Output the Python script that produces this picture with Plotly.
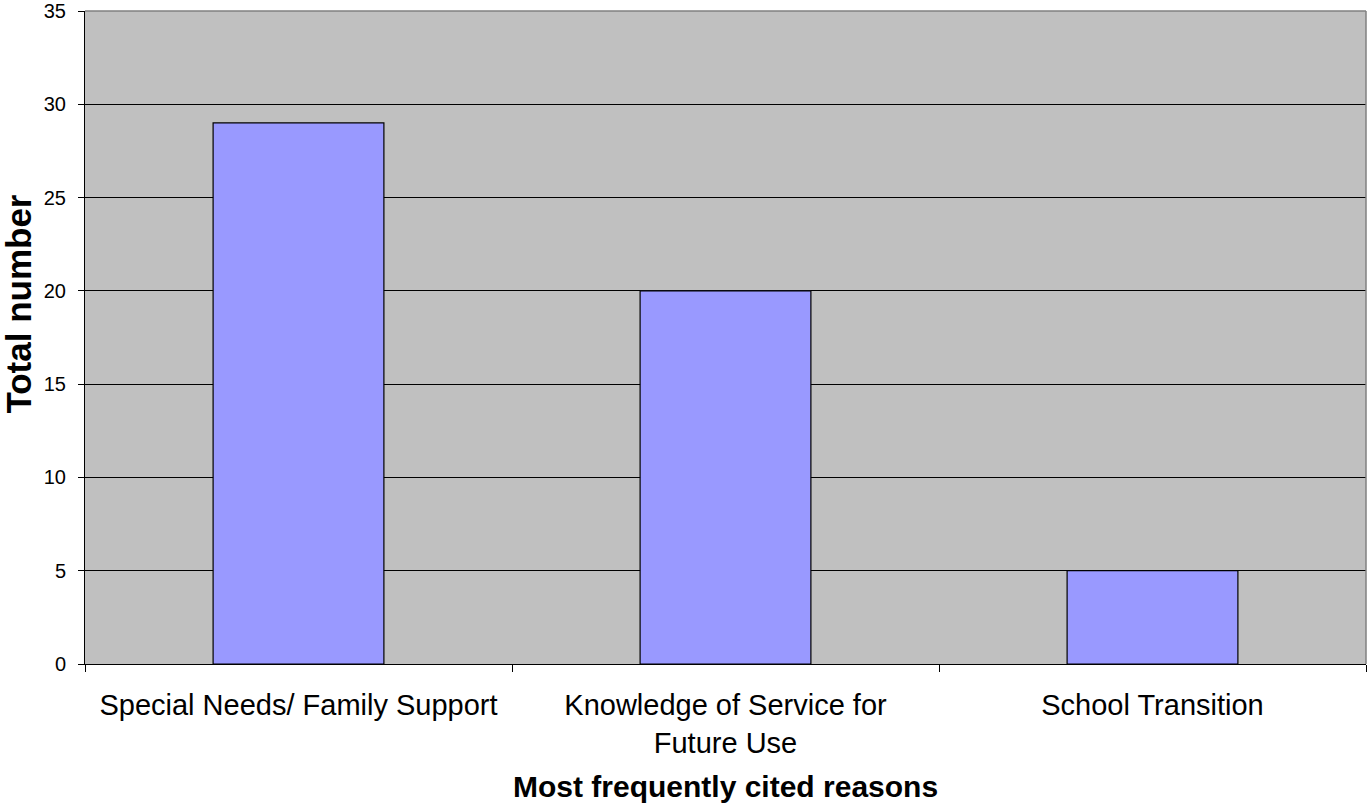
import plotly.graph_objects as go

categories = ["Special Needs/ Family Support", "Knowledge of Service for<br>Future Use", "School Transition"]
values = [29, 20, 5]
y_ticks = [0, 5, 10, 15, 20, 25, 30, 35]

FONT = "Liberation Sans, Arial, sans-serif"

fig = go.Figure(go.Bar(
    x=categories, y=values, width=0.4,
    marker=dict(color="#9999FF", line=dict(color="#000000", width=1.2)),
))

fig.update_layout(
    width=1368, height=806,
    margin=dict(l=85, r=2, t=11, b=142),
    paper_bgcolor="white", plot_bgcolor="#C0C0C0",
    font=dict(family=FONT, color="black"),
    showlegend=False,
)
fig.update_xaxes(
    showline=True, linecolor="black", linewidth=1,
    ticks="outside", tickson="boundaries", ticklen=7, tickcolor="black",
    tickfont=dict(size=29), ticklabelstandoff=15,
    showgrid=False, automargin=False,
)
fig.update_yaxes(
    range=[0, 35], tickvals=y_ticks, showline=True, linecolor="black", linewidth=1,
    ticks="outside", ticklen=6, tickcolor="black",
    tickfont=dict(size=20), ticklabelstandoff=8,
    showgrid=True, gridcolor="black", gridwidth=1,
    zeroline=False, automargin=False,
)
# axis titles
fig.add_annotation(text="<b>Most frequently cited reasons</b>", xref="paper", yref="paper",
                   x=0.5, y=-0.188, xanchor="center", yanchor="middle",
                   showarrow=False, font=dict(size=30, family=FONT, color="black"))
fig.add_annotation(text="<b>Total number</b>", xref="paper", yref="paper",
                   x=-0.052, y=0.551, xanchor="center", yanchor="middle", textangle=-90,
                   showarrow=False, font=dict(size=35, family=FONT, color="black"))
# gray border on top and right of plot area
fig.add_shape(type="line", xref="paper", yref="paper", x0=0, x1=1, y0=1, y1=1,
              line=dict(color="#808080", width=1.5))
fig.add_shape(type="line", xref="paper", yref="paper", x0=1, x1=1, y0=0, y1=1,
              line=dict(color="#808080", width=1.5))

fig.write_html("out.html")
